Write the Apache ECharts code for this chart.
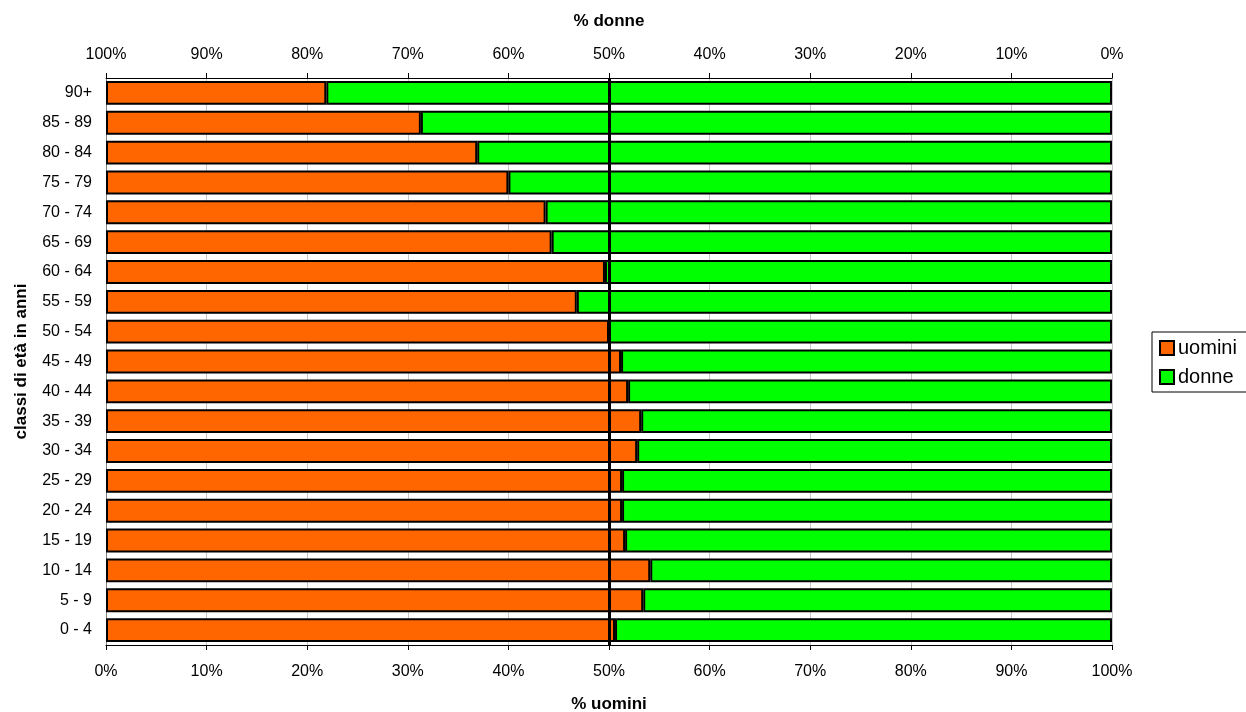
<!DOCTYPE html>
<html>
<head>
<meta charset="utf-8">
<script src="https://cdn.jsdelivr.net/npm/echarts@6/dist/echarts.min.js"></script>
<style>
  html, body { margin: 0; padding: 0; background: #fff; }
  #chart { width: 1246px; height: 712px; }
</style>
</head>
<body>
<div id="chart"></div>
<script>
// Age classes, bottom to top
const categories = ['0 - 4', '5 - 9', '10 - 14', '15 - 19', '20 - 24', '25 - 29', '30 - 34', '35 - 39',
  '40 - 44', '45 - 49', '50 - 54', '55 - 59', '60 - 64', '65 - 69', '70 - 74', '75 - 79',
  '80 - 84', '85 - 89', '90+'];

// Share of men (%) in each age class
const uomini = [50.6, 53.4, 54.1, 51.6, 51.3, 51.3, 52.8, 53.2, 51.9, 51.2, 50.0, 46.8, 49.6,
  44.3, 43.7, 40.0, 36.9, 31.3, 21.9];

// Share of women (%) in each age class
const donne = [49.4, 46.6, 45.9, 48.4, 48.7, 48.7, 47.2, 46.8, 48.1, 48.8, 50.0, 53.2, 50.4,
  55.7, 56.3, 60.0, 63.1, 68.7, 78.1];

const FONT = '"Liberation Sans", Arial, sans-serif';

const chart = echarts.init(document.getElementById('chart'));

chart.setOption({
  animation: false,
  textStyle: { fontFamily: FONT },
  grid: { left: 106, right: 134, top: 78, bottom: 67, containLabel: false, outerBoundsMode: 'none' },
  legend: {
    orient: 'vertical',
    left: 1152,
    top: 332,
    borderColor: '#000',
    borderWidth: 1,
    padding: [6, 40, 5, 7],
    itemGap: 9,
    itemWidth: 14,
    itemHeight: 14,
    icon: 'rect',
    textStyle: { fontFamily: FONT, fontSize: 20, color: '#000', padding: [0, 0, 0, -1] },
    data: ['uomini', 'donne']
  },
  xAxis: [
    {
      type: 'value',
      position: 'bottom',
      min: 0, max: 100, interval: 10,
      name: '% uomini',
      nameLocation: 'middle',
      nameGap: 51,
      nameTextStyle: { fontFamily: FONT, fontSize: 17, fontWeight: 'bold', color: '#000' },
      axisLine: { show: true, lineStyle: { color: '#000', width: 1 } },
      axisTick: { show: true, length: 5, lineStyle: { color: '#000' } },
      axisLabel: { formatter: '{value}%', fontSize: 16, color: '#000', margin: 19 },
      splitLine: { show: true, lineStyle: { color: '#c8c8c8', width: 1 } }
    },
    {
      type: 'value',
      position: 'top',
      inverse: true,
      min: 0, max: 100, interval: 10,
      name: '% donne',
      nameLocation: 'middle',
      nameGap: 48,
      nameTextStyle: { fontFamily: FONT, fontSize: 17, fontWeight: 'bold', color: '#000' },
      axisLine: { show: true, lineStyle: { color: '#000', width: 1 } },
      axisTick: { show: true, length: 5, lineStyle: { color: '#000' } },
      axisLabel: { formatter: '{value}%', fontSize: 16, color: '#000', margin: 15 },
      splitLine: { show: false }
    }
  ],
  yAxis: {
    type: 'category',
    data: categories,
    name: 'classi di età in anni',
    nameLocation: 'middle',
    nameGap: 76,
    nameRotate: 90,
    nameTextStyle: { fontFamily: FONT, fontSize: 17, fontWeight: 'bold', color: '#000' },
    axisLine: { show: true, lineStyle: { color: '#808080', width: 1 } },
    axisTick: { show: false },
    axisLabel: { fontSize: 16, color: '#000', margin: 14 }
  },
  series: [
    {
      name: 'uomini',
      type: 'bar',
      stack: 'tot',
      xAxisIndex: 0,
      data: uomini,
      barCategoryGap: '20%',
      itemStyle: { color: '#FF6600', borderColor: '#000', borderWidth: 2 },
      markLine: {
        silent: true,
        symbol: 'none',
        label: { show: false },
        lineStyle: { color: '#000', width: 3, type: 'solid' },
        data: [{ xAxis: 50 }],
        z: 10
      }
    },
    {
      name: 'donne',
      type: 'bar',
      stack: 'tot',
      xAxisIndex: 0,
      data: donne,
      barCategoryGap: '20%',
      itemStyle: { color: '#00FF00', borderColor: '#000', borderWidth: 2 }
    }
  ]
});
</script>
</body>
</html>
